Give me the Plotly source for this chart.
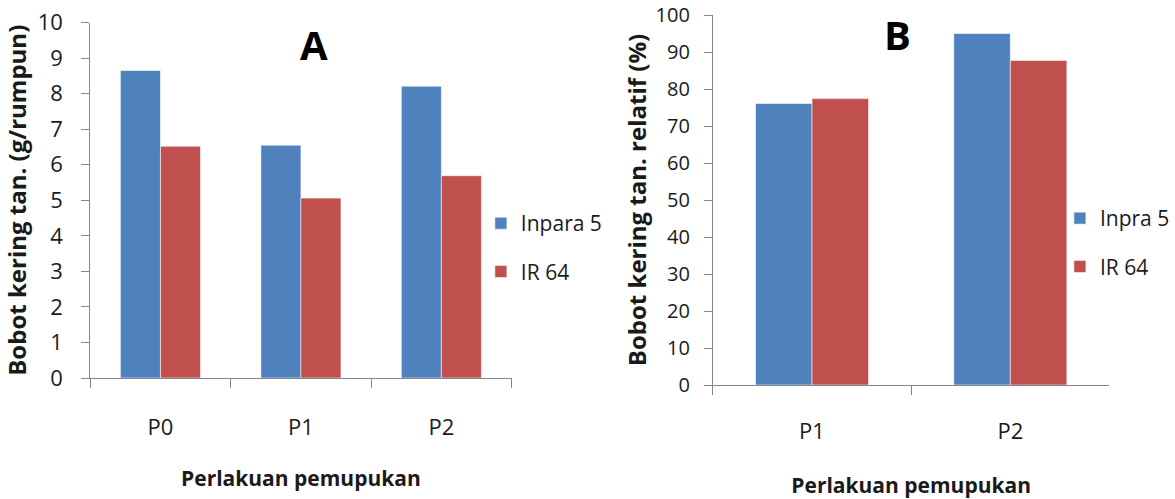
import plotly.graph_objects as go

# ---- data ----
cats_a = ["P0", "P1", "P2"]
inpara5_a = [8.65, 6.55, 8.21]
ir64_a = [6.52, 5.06, 5.69]

cats_b = ["P1", "P2"]
inpra5_b = [76.1, 95.0]
ir64_b = [77.4, 87.7]

names_a = ["Inpara 5", "IR 64"]
names_b = ["Inpra 5", "IR 64"]
ytitle_a = "Bobot kering tan. (g/rumpun)"
ytitle_b = "Bobot kering tan. relatif (%)"
xtitle = "Perlakuan pemupukan"

# ---- style ----
W, H = 1175, 499
BLUE = "#4F81BD"
RED = "#C0504D"
FONT = "Open Sans, Noto Sans, sans-serif"
AX = "#868686"
TXT = "#1a1a1a"
EDGE = dict(color="rgba(255,255,255,0.55)", width=1)

fig = go.Figure()
fig.add_bar(x=cats_a, y=inpara5_a, name=names_a[0], marker=dict(color=BLUE, line=EDGE),
            xaxis="x", yaxis="y", legend="legend", legendgroup="a1")
fig.add_bar(x=cats_a, y=ir64_a, name=names_a[1], marker=dict(color=RED, line=EDGE),
            xaxis="x", yaxis="y", legend="legend", legendgroup="a2")
fig.add_bar(x=cats_b, y=inpra5_b, name=names_b[0], marker=dict(color=BLUE, line=EDGE),
            xaxis="x2", yaxis="y2", legend="legend2", legendgroup="b1")
fig.add_bar(x=cats_b, y=ir64_b, name=names_b[1], marker=dict(color=RED, line=EDGE),
            xaxis="x2", yaxis="y2", legend="legend2", legendgroup="b2")

def xax(domain, anchor, lab_standoff, standoff):
    return dict(domain=domain, anchor=anchor, automargin=False, showline=True, linecolor=AX, linewidth=1,
                ticks="outside", tickson="boundaries", ticklen=9, tickcolor=AX,
                tickfont=dict(size=22, color=TXT), ticklabelstandoff=lab_standoff,
                ticklabeloverflow="allow",
                showgrid=False, zeroline=False,
                title=dict(text="<b>" + xtitle + "</b>", font=dict(size=21, color=TXT), standoff=standoff))

def yax(domain, anchor, rng, dtick, title, lab_standoff, standoff, size, tsize):
    return dict(domain=domain, anchor=anchor, automargin=False, range=rng, dtick=dtick, showline=True,
                linecolor=AX, linewidth=1, ticks="outside", ticklen=8, tickcolor=AX,
                tickfont=dict(size=tsize, color=TXT), ticklabelstandoff=lab_standoff,
                ticklabeloverflow="allow",
                showgrid=False, zeroline=False,
                title=dict(text="<b>" + title + "</b>", font=dict(size=size, color=TXT), standoff=standoff))

fig.update_layout(
    width=W, height=H, autosize=False,
    margin=dict(l=0, r=0, t=0, b=0),
    paper_bgcolor="white", plot_bgcolor="white",
    font=dict(family=FONT, size=20, color=TXT),
    barmode="group", bargap=0.43, bargroupgap=0,
    xaxis=xax([91 / W, 516 / W], "y", 30, 30),
    yaxis=yax([1 - 378 / H, 1 - 22.5 / H], "x", [0, 10], 1, ytitle_a, 14, 6, 24, 22),
    xaxis2=xax([719 / W, 1119 / W], "y2", 27, 34),
    yaxis2=yax([1 - 385 / H, 1 - 15 / H], "x2", [0, 100], 10, ytitle_b, 10, 2, 24, 20),
    legend=dict(x=485 / W, y=1 - 203 / H, xanchor="left", yanchor="top",
                font=dict(size=21, color=TXT), tracegroupgap=18, bgcolor="rgba(0,0,0,0)"),
    legend2=dict(x=1069 / W, y=1 - 198 / H, xanchor="left", yanchor="top",
                 font=dict(size=21, color=TXT), tracegroupgap=18, bgcolor="rgba(0,0,0,0)"),
    annotations=[
        dict(text="<b>A</b>", x=317 / W, y=1 - 45 / H, xref="paper", yref="paper",
             showarrow=False, font=dict(size=40, color="black"), xanchor="center", yanchor="middle"),
        dict(text="<b>B</b>", x=905 / W, y=1 - 35 / H, xref="paper", yref="paper",
             showarrow=False, font=dict(size=40, color="black"), xanchor="center", yanchor="middle"),
    ],
)

fig.write_html("out.html", config={"displayModeBar": False},
               post_script="document.body.style.margin='0';document.body.style.padding='0';")
